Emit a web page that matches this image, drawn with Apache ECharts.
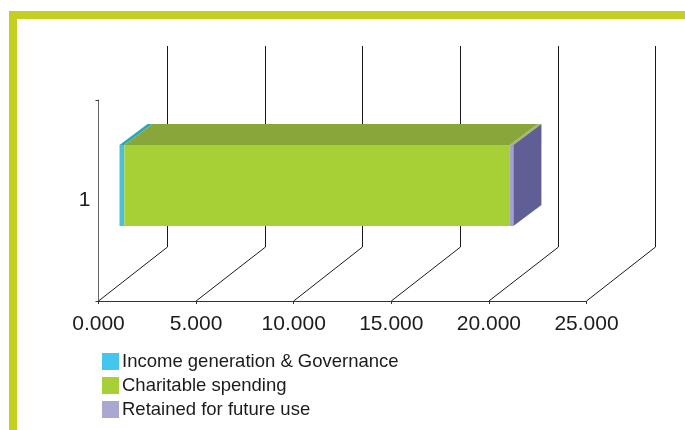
<!DOCTYPE html>
<html>
<head>
<meta charset="utf-8">
<style>html,body{margin:0;padding:0;background:#fff}#c{width:685px;height:430px}</style>
<script src="https://cdn.jsdelivr.net/npm/echarts@6/dist/echarts.min.js"></script>
</head>
<body>
<div id="c"></div>
<script>
const categories = ['1'];
const tickValues = [0, 5, 10, 15, 20, 25];
const seriesNames = ['Income generation & Governance', 'Charitable spending', 'Retained for future use'];
const incomeGeneration = [0.25];
const charitableSpending = [19.75];
const retainedForFuture = [0.18];

const FONT = '"Liberation Sans", Arial, sans-serif';
const TEXT = '#1c1c1c';
const WALL_DX = 68.7, WALL_DY = -54;   // 3D wall depth
const FRONT_DX = 21, FRONT_DY = -15;   // bar front offset within the depth
const BACK_DX = 49, BACK_DY = -36;     // bar back offset within the depth
const BAR_RATIO = 81 / 201;

const chart = echarts.init(document.getElementById('c'), null, {renderer: 'canvas'});

function wallRender(params, api) {
  const v = api.value(0);
  const base = api.coord([v, 0]);
  const h = api.size([0, 1])[1];
  const x0 = base[0], y0 = base[1] + h / 2;
  const style = {stroke: '#1a1a1a', lineWidth: 1, fill: 'none'};
  const xt = Math.round(x0 + WALL_DX) + 0.5;
  return {
    type: 'group',
    children: [
      {type: 'line', shape: {x1: x0, y1: y0, x2: xt, y2: y0 + WALL_DY}, style},
      {type: 'line', shape: {x1: xt, y1: y0 + WALL_DY, x2: xt, y2: y0 + WALL_DY - h}, style}
    ]
  };
}

function barRender(front, top, side, showSide) {
  return function (params, api) {
    const a = api.coord([api.value(0), api.value(2)]);
    const b = api.coord([api.value(1), api.value(2)]);
    const bh = api.size([0, 1])[1] * BAR_RATIO;
    const yT = a[1] - bh / 2 + FRONT_DY, yB = a[1] + bh / 2 + FRONT_DY;
    const xL = a[0] + FRONT_DX, xR = b[0] + FRONT_DX;
    const dx = BACK_DX - FRONT_DX, dy = BACK_DY - FRONT_DY;
    const children = [
      {type: 'polygon', shape: {points: [[xL, yT], [xR, yT], [xR + dx, yT + dy], [xL + dx, yT + dy]]}, style: {fill: top}},
      {type: 'rect', shape: {x: xL, y: yT, width: xR - xL, height: yB - yT}, style: {fill: front}}
    ];
    if (showSide) {
      children.push({type: 'polygon', shape: {points: [[xR, yT], [xR + dx, yT + dy], [xR + dx, yB + dy], [xR, yB]]}, style: {fill: side}});
    }
    return {type: 'group', children};
  };
}

function segment(values, priorA, priorB) {
  return values.map((v, i) => {
    const start = (priorA ? priorA[i] : 0) + (priorB ? priorB[i] : 0);
    return [start, start + v, i];
  });
}

chart.setOption({
  animation: false,
  backgroundColor: '#fff',
  graphic: [
    {type: 'rect', silent: true, shape: {x: 9, y: 11, width: 676, height: 8}, style: {fill: '#c4cf1f'}},
    {type: 'rect', silent: true, shape: {x: 9, y: 11, width: 8, height: 419}, style: {fill: '#c4cf1f'}}
  ],
  grid: {left: 98.5, right: 98.5, top: 100, bottom: 129, containLabel: false},
  xAxis: {
    type: 'value', min: 0, max: 25, interval: 5,
    axisLine: {show: true, lineStyle: {color: '#333', width: 1}},
    axisTick: {show: true, length: 3, lineStyle: {color: '#333'}},
    axisLabel: {color: TEXT, fontFamily: FONT, fontSize: 21, margin: 13, formatter: v => v.toFixed(3), showMinLabel: true, showMaxLabel: true, hideOverlap: false},
    splitLine: {show: false}
  },
  yAxis: {
    type: 'category', data: categories,
    axisLine: {show: true, lineStyle: {color: '#666', width: 1}},
    axisTick: {show: true, length: 3, lineStyle: {color: '#333'}},
    axisLabel: {color: TEXT, fontFamily: FONT, fontSize: 21, margin: 8},
    splitLine: {show: false}
  },
  legend: {
    show: true, orient: 'vertical', left: 102, top: 352, itemGap: 5,
    itemWidth: 17, itemHeight: 17, icon: 'rect', selectedMode: false,
    data: seriesNames,
    textStyle: {color: TEXT, fontFamily: FONT, fontSize: 18.5, lineHeight: 17, padding: [0, 0, 0, -2]},
    padding: 0
  },
  series: [
    {type: 'custom', name: 'walls', silent: true, clip: false, z: 1, renderItem: wallRender,
     data: tickValues.map(v => [v]), encode: {x: 0}},
    {type: 'custom', name: seriesNames[0], clip: false, z: 2, silent: true,
     itemStyle: {color: '#45c6ee'},
     renderItem: barRender('#4bc0d0', '#2ba9b6', '#2ba9b6', false),
     data: segment(incomeGeneration), encode: {x: [0, 1], y: 2}},
    {type: 'custom', name: seriesNames[1], clip: false, z: 3, silent: true,
     itemStyle: {color: '#a7d037'},
     renderItem: barRender('#a7d037', '#88a63a', '#88a63a', false),
     data: segment(charitableSpending, incomeGeneration), encode: {x: [0, 1], y: 2}},
    {type: 'custom', name: seriesNames[2], clip: false, z: 4, silent: true,
     itemStyle: {color: '#aaa8d3'},
     renderItem: barRender('#a3a2d2', '#a8b56e', '#5f5f96', true),
     data: segment(retainedForFuture, incomeGeneration, charitableSpending), encode: {x: [0, 1], y: 2}}
  ]
});
</script>
</body>
</html>
